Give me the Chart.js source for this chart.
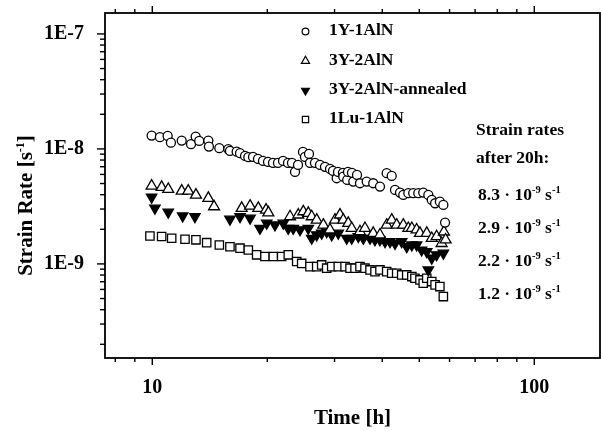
<!DOCTYPE html>
<html>
<head>
<meta charset="utf-8">
<script src="https://cdn.jsdelivr.net/npm/chart.js@4.4.0/dist/chart.umd.min.js"></script>
<style>
  html, body { margin: 0; padding: 0; background: #fff; }
  #wrap { width: 601px; height: 431px; }
</style>
</head>
<body>
<div id="wrap"><canvas id="chart" width="601" height="431"></canvas></div>
<script>
// Creep strain rate vs time, log-log
const SERIF = '"Liberation Serif", "Times New Roman", serif';

const seriesNames = ['1Y-1AlN', '3Y-2AlN', '3Y-2AlN-annealed', '1Lu-1AlN'];

// time [h] and strain rate [1e-9 s^-1]
const time1Y = [9.96, 10.47, 10.97, 11.19, 11.94, 12.63, 12.99, 13.27, 14.02, 14.07, 14.98, 15.81, 15.97, 16.63, 16.97,
  17.49, 17.84, 18.35, 18.91, 19.49, 20.09, 20.70, 21.33, 21.99, 22.66, 23.21, 23.64, 24.07, 24.80, 25.10, 25.72, 25.87,
  26.66, 27.48, 28.32, 29.19, 29.72, 30.39, 30.63, 31.56, 31.62, 32.38, 32.53, 33.32, 33.59, 34.35, 34.97, 36.41, 37.88,
  39.45, 41.08, 42.34, 43.19, 44.51, 45.4, 46.8, 48.2, 49.7, 51.2, 52.8, 53.9, 55.0, 56.6, 57.8, 58.4];
const rate1Y = [13.05, 12.64, 12.97, 11.34, 11.81, 10.99, 12.79, 11.74, 11.81, 10.47, 10.14, 9.94, 9.61, 9.47, 9.18,
  8.69, 8.47, 8.52, 8.19, 7.86, 7.71, 7.56, 7.56, 7.86, 7.56, 7.56, 6.31, 7.26, 9.42, 8.52, 9.05, 7.56,
  7.56, 7.26, 6.98, 6.70, 6.44, 5.56, 6.31, 6.19, 5.74, 5.37, 6.31, 6.19, 5.20, 5.94, 5.03, 5.20, 5.03,
  4.70, 6.15, 5.82, 4.40, 4.17, 3.98, 4.12, 4.12, 4.12, 4.17, 3.98, 3.60, 3.37, 3.48, 3.26, 2.29];

const time3Y = [9.96, 10.58, 11.01, 11.94, 12.42, 13.01, 14.02, 14.51, 17.14, 18.03, 18.95, 19.85, 20.13, 22.94, 24.11,
  24.85, 25.61, 26.14, 26.94, 28.04, 29.19, 30.08, 31.00, 31.62, 32.59, 33.27, 34.97, 36.04, 37.88, 39.45, 41.08,
  42.34, 43.63, 45.4, 46.8, 47.8, 49.2, 50.2, 52.3, 53.9, 55.5, 57.2, 58.0, 58.6];
const rate3Y = [4.77, 4.65, 4.46, 4.31, 4.31, 3.98, 3.73, 3.15, 3.05, 3.19, 3.05, 2.95, 2.79, 2.58, 2.67,
  2.85, 2.76, 2.58, 2.41, 2.18, 1.98, 2.41, 2.67, 2.41, 2.26, 2.04, 1.91, 2.04, 1.85, 1.79, 2.18,
  2.41, 2.18, 2.18, 2.04, 2.04, 1.98, 1.85, 1.85, 1.67, 1.73, 1.51, 1.90, 1.62];

const time3YA = [9.96, 10.16, 11.01, 12.01, 12.93, 15.97, 16.97, 18.03, 19.14, 19.93, 20.95, 22.03, 22.70, 23.39, 24.36,
  25.61, 26.14, 26.94, 27.76, 28.61, 29.49, 30.68, 32.28, 33.27, 34.62, 35.68, 37.15, 38.28, 39.45, 40.67, 41.91,
  43.19, 44.97, 46.35, 47.8, 49.2, 50.7, 52.3, 52.8, 53.9, 55.5, 57.8];
const rate3YA = [3.80, 3.05, 2.82, 2.61, 2.58, 2.45, 2.58, 2.50, 2.04, 2.26, 2.18, 2.26, 2.04, 2.04, 1.98,
  2.04, 1.67, 1.79, 1.85, 1.91, 1.79, 1.85, 1.67, 1.67, 1.73, 1.67, 1.67, 1.62, 1.62, 1.56, 1.56,
  1.51, 1.56, 1.41, 1.46, 1.46, 1.32, 1.28, 0.887, 1.12, 1.20, 1.24];

const time1Lu = [9.86, 10.58, 11.24, 12.18, 13.01, 13.88, 14.98, 15.97, 16.97, 17.84, 18.76, 19.72, 20.74, 21.81, 22.70,
  23.88, 24.61, 25.87, 26.94, 27.76, 28.61, 29.49, 30.68, 31.96, 32.93, 33.94, 34.97, 36.04, 37.15, 38.28, 39.45,
  41.08, 42.34, 43.63, 44.97, 46.35, 47.8, 48.7, 50.2, 51.2, 52.3, 53.9, 55.0, 56.6, 57.8];
const rate1Lu = [1.75, 1.73, 1.67, 1.64, 1.62, 1.53, 1.46, 1.41, 1.37, 1.32, 1.20, 1.16, 1.16, 1.16, 1.20,
  1.05, 1.01, 0.947, 0.947, 0.980, 0.918, 0.947, 0.947, 0.947, 0.918, 0.918, 0.947, 0.918, 0.887, 0.857, 0.887,
  0.857, 0.830, 0.830, 0.802, 0.802, 0.776, 0.751, 0.726, 0.679, 0.751, 0.702, 0.657, 0.635, 0.520];

// axes
const xRange = [7.52, 148.6];
const yRange = [1.52e-10, 1.52e-7];
const xMajorTicks = [10, 100];
const xMajorLabels = ['10', '100'];
const xMinorTicks = [8, 9, 20, 30, 40, 50, 60, 70, 80, 90];
const yMajorTicks = [1e-9, 1e-8, 1e-7];
const yMajorLabels = ['1E-9', '1E-8', '1E-7'];
const yMinorMantissas = [2, 3, 4, 5, 6, 7, 8, 9];
const yMinorDecades = [1e-10, 1e-9, 1e-8];

// strain rates after 20 h [1e-9 s^-1]
const rateAfter20h = ['8.3', '2.9', '2.2', '1.2'];

const toPoints = (ts, rs) => ts.map((t, i) => ({ x: t, y: rs[i] * 1e-9 }));

const markerDefs = [
  { style: 'circle', radius: 4.5, fill: '#fff', rot: 0 },
  { style: 'triangle', radius: 6.3, fill: '#fff', rot: 0 },
  { style: 'triangle', radius: 6.0, fill: '#000', rot: 180 },
  { style: 'rect', radius: 5.9, fill: '#fff', rot: 0 }
];
const seriesData = [
  toPoints(time1Y, rate1Y),
  toPoints(time3Y, rate3Y),
  toPoints(time3YA, rate3YA),
  toPoints(time1Lu, rate1Lu)
];

const datasets = seriesNames.map((name, i) => ({
  label: name,
  data: seriesData[i],
  showLine: false,
  pointStyle: markerDefs[i].style,
  pointRadius: markerDefs[i].radius,
  pointRotation: markerDefs[i].rot,
  pointBorderWidth: 1.3,
  pointBorderColor: '#000',
  pointBackgroundColor: markerDefs[i].fill
}));

// small legend marker, same shapes as the chart points
function drawMarker(ctx, def, cx, cy, scale) {
  const r = def.radius * scale;
  ctx.beginPath();
  if (def.style === 'circle') {
    ctx.arc(cx, cy, r, 0, Math.PI * 2);
  } else if (def.style === 'rect') {
    const s = r * Math.SQRT1_2;
    ctx.rect(cx - s, cy - s, 2 * s, 2 * s);
  } else {
    const d = def.rot ? -1 : 1;
    ctx.moveTo(cx, cy - d * r);
    ctx.lineTo(cx + r * 0.866, cy + d * r / 2);
    ctx.lineTo(cx - r * 0.866, cy + d * r / 2);
    ctx.closePath();
  }
  ctx.fillStyle = def.fill;
  ctx.fill();
  ctx.lineWidth = 1.2;
  ctx.strokeStyle = '#000';
  ctx.stroke();
}

// text runs with superscripts: [[text, isSup], ...]
function runsWidth(ctx, runs, size, supSize) {
  let w = 0;
  runs.forEach(([t, sup]) => {
    ctx.font = `bold ${sup ? supSize : size}px ${SERIF}`;
    w += ctx.measureText(t).width;
  });
  return w;
}
function drawRuns(ctx, runs, x, y, size, supSize) {
  runs.forEach(([t, sup]) => {
    ctx.font = `bold ${sup ? supSize : size}px ${SERIF}`;
    ctx.fillText(t, x, sup ? y - size * 0.38 : y);
    x += ctx.measureText(t).width;
  });
}

const decorPlugin = {
  id: 'decor',
  afterDraw(chart) {
    const { ctx, chartArea: a, scales: { x, y } } = chart;
    ctx.save();

    // frame
    ctx.strokeStyle = '#000';
    ctx.lineWidth = 1.8;
    ctx.strokeRect(a.left, a.top, a.right - a.left, a.bottom - a.top);

    // ticks, outside, on bottom, top and left
    ctx.lineWidth = 1.4;
    const xt = (v, len) => {
      const px = x.getPixelForValue(v);
      ctx.beginPath();
      ctx.moveTo(px, a.bottom); ctx.lineTo(px, a.bottom + len);
      ctx.moveTo(px, a.top); ctx.lineTo(px, a.top - len);
      ctx.stroke();
    };
    const yt = (v, len) => {
      const py = y.getPixelForValue(v);
      ctx.beginPath();
      ctx.moveTo(a.left, py); ctx.lineTo(a.left - len, py);
      ctx.stroke();
    };
    xMajorTicks.forEach(v => xt(v, 7));
    xMinorTicks.forEach(v => xt(v, 4));
    yMajorTicks.forEach(v => yt(v, 8));
    yMinorDecades.forEach(d => yMinorMantissas.forEach(m => yt(m * d, 5)));

    // legend inside the plot
    ctx.fillStyle = '#000';
    ctx.textBaseline = 'alphabetic';
    ctx.textAlign = 'left';
    const legBase = [35, 64.5, 94, 123];
    seriesNames.forEach((name, i) => {
      drawMarker(ctx, markerDefs[i], 305.5, legBase[i] - 3.5, 0.75);
      ctx.fillStyle = '#000';
      ctx.font = `bold 17.5px ${SERIF}`;
      ctx.fillText(name, 329, legBase[i]);
    });

    // strain rate notes
    ctx.font = `bold 17.5px ${SERIF}`;
    ctx.fillText('Strain rates', 476, 135);
    ctx.fillText('after 20h:', 476, 163);
    const noteBase = [200, 233, 266, 299];
    rateAfter20h.forEach((v, i) => {
      drawRuns(ctx, [[v + ' \u00b7 10', false], ['-9', true], [' s', false], ['-1', true]], 478, noteBase[i], 17.5, 10.5);
    });

    // y axis title
    const yRuns = [['Strain Rate [s', false], ['-1', true], [']', false]];
    const tw = runsWidth(ctx, yRuns, 21, 12);
    ctx.translate(32, 205.5);
    ctx.rotate(-Math.PI / 2);
    drawRuns(ctx, yRuns, -tw / 2, 0, 21, 12);

    ctx.restore();
  }
};

new Chart(document.getElementById('chart').getContext('2d'), {
  type: 'scatter',
  data: { datasets },
  options: {
    responsive: false,
    devicePixelRatio: 1,
    animation: false,
    layout: { autoPadding: false, padding: { top: 13, right: 1, left: 0, bottom: 0 } },
    plugins: { legend: { display: false }, tooltip: { enabled: false } },
    scales: {
      x: {
        type: 'logarithmic',
        min: xRange[0],
        max: xRange[1],
        grid: { display: false },
        border: { display: false },
        afterBuildTicks: s => { s.ticks = xMajorTicks.map(v => ({ value: v })); },
        afterFit: s => { s.height = 73; s.paddingLeft = 0; s.paddingRight = 0; },
        ticks: {
          autoSkip: false,
          maxRotation: 0,
          padding: 10,
          color: '#000',
          font: { family: SERIF, size: 20, weight: 'bold' },
          callback: (v, i) => xMajorLabels[i]
        },
        title: {
          display: true,
          text: 'Time [h]',
          color: '#000',
          font: { family: SERIF, size: 21, weight: 'bold' },
          padding: { top: 0, bottom: 0 }
        }
      },
      y: {
        type: 'logarithmic',
        min: yRange[0],
        max: yRange[1],
        grid: { display: false },
        border: { display: false },
        afterBuildTicks: s => { s.ticks = yMajorTicks.map(v => ({ value: v })); },
        afterFit: s => { s.width = 105; s.paddingTop = 0; s.paddingBottom = 0; },
        ticks: {
          autoSkip: false,
          padding: 13,
          color: '#000',
          font: { family: SERIF, size: 20, weight: 'bold' },
          callback: (v, i) => yMajorLabels[i]
        }
      }
    }
  },
  plugins: [decorPlugin]
});
</script>
</body>
</html>
